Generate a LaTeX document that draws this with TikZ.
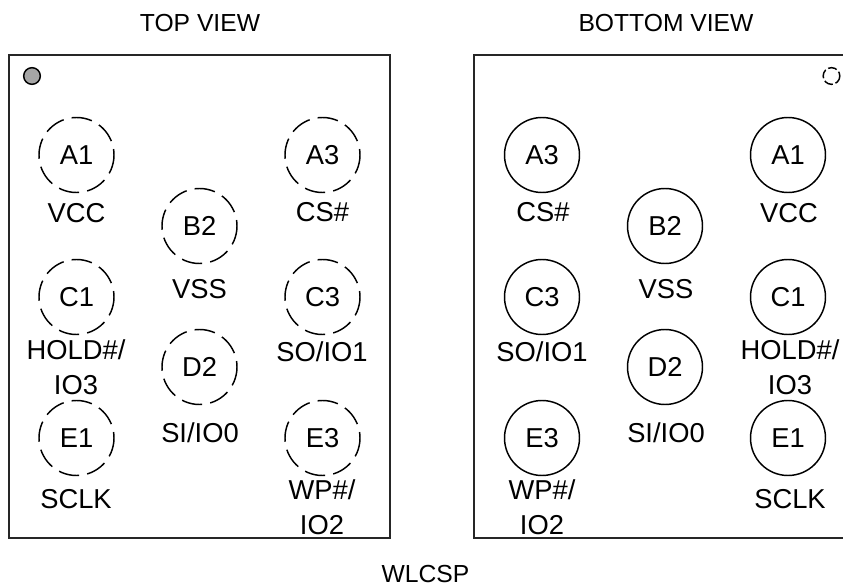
\documentclass[tikz,border=0pt]{standalone}
\usepackage{fontspec}
\setmainfont{Liberation Sans}
\tikzset{
  x=0.75pt,y=-0.75pt,
  pkg/.style={draw=black!85,line width=1.4pt},
  ballbase/.style={circle,draw=black,line width=1.1pt,minimum size=56.25pt,inner sep=0pt,font=\fontsize{20.5pt}{22pt}\selectfont},
  topball/.style={ballbase,dash pattern=on 15.5pt off 6.16pt,dash phase=11pt},
  botball/.style={ballbase},
  lab/.style={align=center,inner sep=0pt,font=\fontsize{20.5pt}{26pt}\selectfont},
  title/.style={inner sep=0pt,font=\fontsize{18.5pt}{20pt}\selectfont},
  pindot/.style={circle,draw=black,line width=1.1pt,minimum size=12.5pt,inner sep=0pt},
}
\begin{document}
\begin{tikzpicture}
\useasboundingbox (0,0) rectangle (843,588);
\node[title] (tt) at (200,23) {TOP VIEW};
\node[title] (tb) at (666,23) {BOTTOM VIEW};
\node[title] (tw) at (425.5,574) {WLCSP};
\node[pkg,minimum width=285.75pt,minimum height=362.25pt,inner sep=0pt] (left) at (199.5,296.5) {};
\draw[pkg] (845,55) -- (474,55) -- (474,538) -- (845,538);
\node[pindot,fill=black!35] (dotl) at (32,76) {};
\node[pindot,dash pattern=on 6.75pt off 2.2pt,dash phase=3.4pt] (dotr) at (831.5,76) {};
\node[topball] (a1) at (76.5,155) {A1};
\node[topball] (a3) at (322.5,155) {A3};
\node[topball] (b2) at (199.5,226) {B2};
\node[topball] (c1) at (76.5,297) {C1};
\node[topball] (c3) at (322.5,297) {C3};
\node[topball] (d2) at (199.5,367) {D2};
\node[topball] (e1) at (76.5,438) {E1};
\node[topball] (e3) at (322.5,438) {E3};
\node[lab] (la1) at (76.5,213) {VCC};
\node[lab] (la3) at (322.5,212) {CS\#};
\node[lab] (lb2) at (199.5,289) {VSS};
\node[lab] (lc1) at (76,367) {HOLD\#/\\IO3};
\node[lab] (lc3) at (322,352) {SO/IO1};
\node[lab] (ld2) at (200,433) {SI/IO0};
\node[lab] (le1) at (76,499) {SCLK};
\node[lab] (le3) at (322,507.5) {WP\#/\\IO2};
\node[botball] (ra3) at (542,155) {A3};
\node[botball] (ra1) at (788,155) {A1};
\node[botball] (rb2) at (665,226) {B2};
\node[botball] (rc3) at (542,297) {C3};
\node[botball] (rc1) at (788,297) {C1};
\node[botball] (rd2) at (665,367) {D2};
\node[botball] (re3) at (542,438) {E3};
\node[botball] (re1) at (788,438) {E1};
\node[lab] (rla3) at (543,212) {CS\#};
\node[lab] (rla1) at (789,213) {VCC};
\node[lab] (rlb2) at (666,289) {VSS};
\node[lab] (rlc3) at (542,352) {SO/IO1};
\node[lab] (rlc1) at (790,367) {HOLD\#/\\IO3};
\node[lab] (rld2) at (666,433) {SI/IO0};
\node[lab] (rle3) at (542,507.5) {WP\#/\\IO2};
\node[lab] (rle1) at (790,499) {SCLK};
\end{tikzpicture}
\end{document}
